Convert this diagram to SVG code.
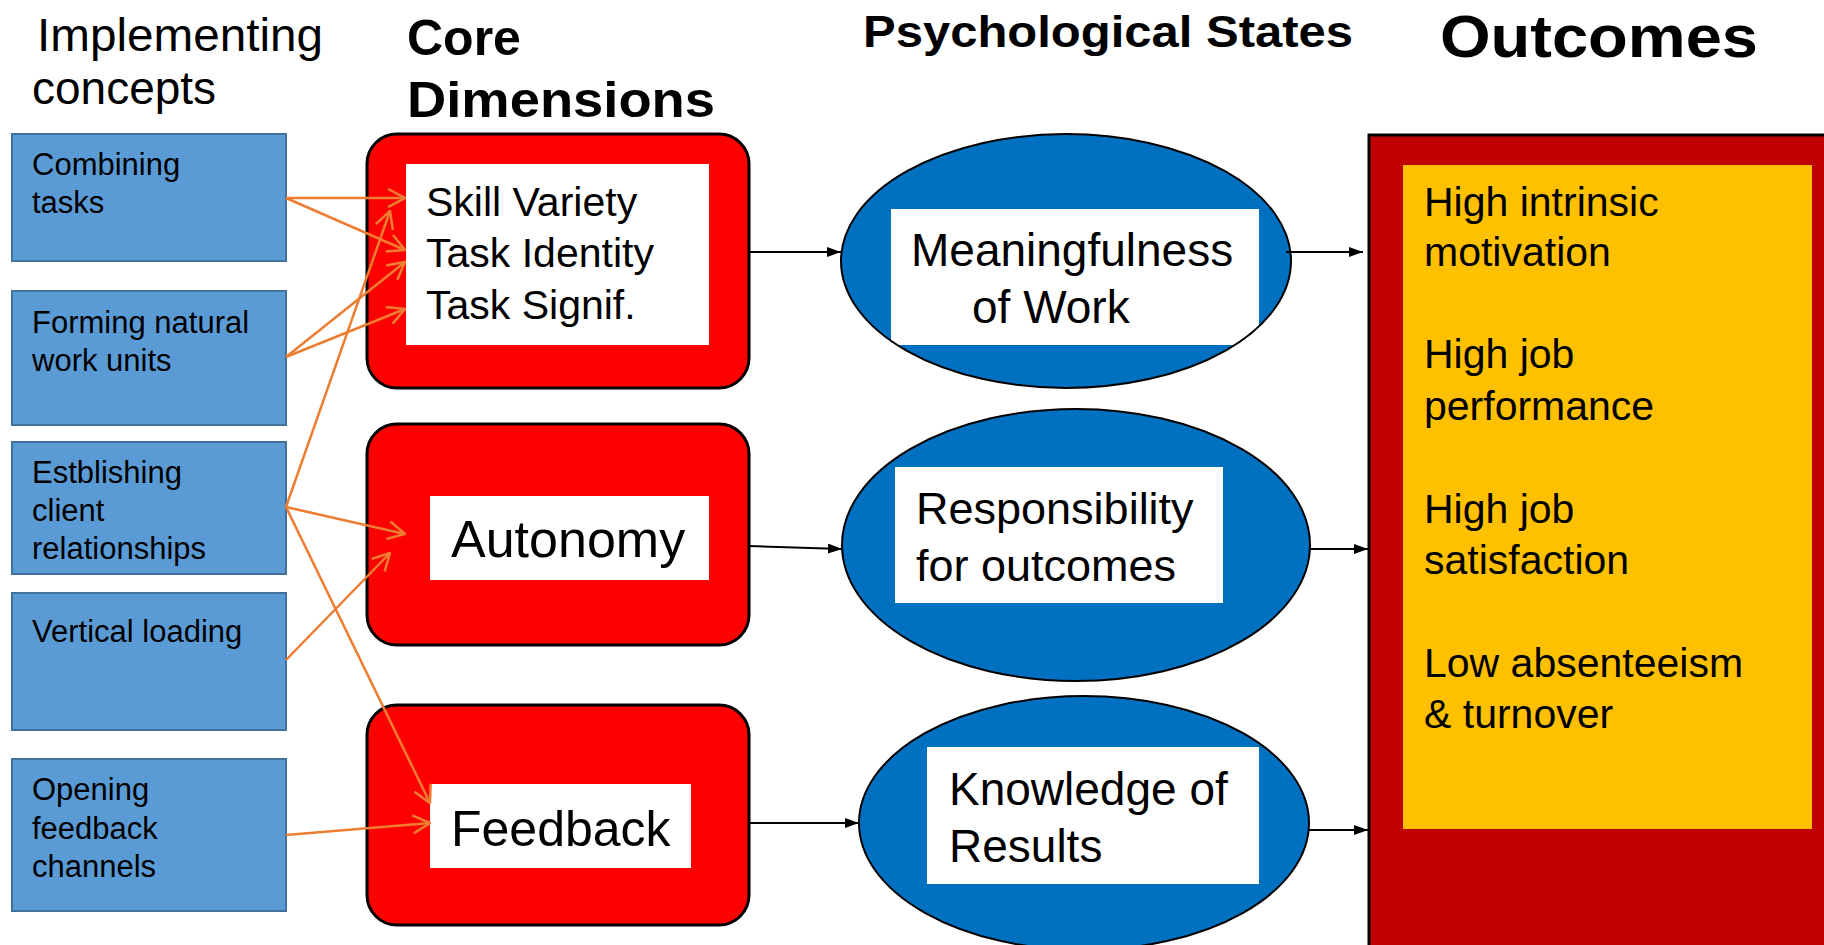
<svg xmlns="http://www.w3.org/2000/svg" width="1824" height="945" viewBox="0 0 1824 945">
<style>
text{font-family:"Liberation Sans",Arial,sans-serif;fill:#000}
.hdr{font-size:46px}
.hb{font-weight:bold}
.bt{font-size:31px}
.blue{fill:#5B9BD5;stroke:#41719C;stroke-width:2}
.red{fill:#FF0000;stroke:#000;stroke-width:3}
.wh{fill:#FFFFFF}
.ell{fill:#0070C0}
.ello{fill:none;stroke:#000;stroke-width:2}
.oc{stroke:#ED7D31;stroke-width:2.5;fill:none}
.bc{stroke:#000;stroke-width:2;fill:none}
.ot{font-size:41px}
</style>
<defs>
<marker id="oa" viewBox="0 0 20 20" refX="19" refY="10" markerWidth="20" markerHeight="20" markerUnits="userSpaceOnUse" orient="auto">
<path d="M2,1 L19,10 L2,19" fill="none" stroke="#ED7D31" stroke-width="2.5"/>
</marker>
<marker id="ba" viewBox="0 0 14 10" refX="14" refY="5" markerWidth="14" markerHeight="10" markerUnits="userSpaceOnUse" orient="auto">
<path d="M0,0 L14,5 L0,10 z" fill="#000"/>
</marker>
</defs>

<g id="headers">
<text class="hdr" x="37" y="51" textLength="286" lengthAdjust="spacingAndGlyphs">Implementing</text>
<text class="hdr" x="32" y="104">concepts</text>
<text class="hb" x="407" y="55" font-size="50">Core</text>
<text class="hb" x="407" y="117" font-size="50" textLength="308" lengthAdjust="spacingAndGlyphs">Dimensions</text>
<text class="hb" x="863" y="47" font-size="44" textLength="490" lengthAdjust="spacingAndGlyphs">Psychological States</text>
<text class="hb" x="1440" y="57" font-size="60" textLength="318" lengthAdjust="spacingAndGlyphs">Outcomes</text>
</g>

<g id="impl-combining">
<rect class="blue" x="12" y="134" width="274" height="127"/>
<text class="bt" x="32" y="175">Combining</text>
<text class="bt" x="32" y="213">tasks</text>
</g>
<g id="impl-forming">
<rect class="blue" x="12" y="291" width="274" height="134"/>
<text class="bt" x="32" y="333">Forming natural</text>
<text class="bt" x="32" y="371">work units</text>
</g>
<g id="impl-client">
<rect class="blue" x="12" y="442" width="274" height="132"/>
<text class="bt" x="32" y="483">Estblishing</text>
<text class="bt" x="32" y="521">client</text>
<text class="bt" x="32" y="559">relationships</text>
</g>
<g id="impl-vertical">
<rect class="blue" x="12" y="593" width="274" height="137"/>
<text class="bt" x="32" y="642">Vertical loading</text>
</g>
<g id="impl-feedback">
<rect class="blue" x="12" y="759" width="274" height="152"/>
<text class="bt" x="32" y="800">Opening</text>
<text class="bt" x="32" y="839">feedback</text>
<text class="bt" x="32" y="877">channels</text>
</g>

<g id="core-skill">
<rect class="red" x="367" y="134" width="382" height="254" rx="30" ry="30"/>
<rect class="wh" x="406" y="164" width="303" height="181"/>
<text x="426" y="216" font-size="41">Skill Variety</text>
<text x="426" y="267" font-size="41">Task Identity</text>
<text x="426" y="319" font-size="41">Task Signif.</text>
</g>
<g id="core-autonomy">
<rect class="red" x="367" y="424" width="382" height="221" rx="30" ry="30"/>
<rect class="wh" x="430" y="496" width="279" height="84"/>
<text x="451" y="557" font-size="52">Autonomy</text>
</g>
<g id="core-feedback">
<rect class="red" x="367" y="705" width="382" height="220" rx="30" ry="30"/>
<rect class="wh" x="430" y="784" width="261" height="84"/>
<text x="451" y="846" font-size="50">Feedback</text>
</g>

<g id="state-meaning">
<ellipse class="ell" cx="1066" cy="261" rx="225" ry="127"/>
<rect class="wh" x="891" y="209" width="368" height="136"/>
<ellipse class="ello" cx="1066" cy="261" rx="225" ry="127"/>
<text x="911" y="266" font-size="46">Meaningfulness</text>
<text x="972" y="323" font-size="46">of Work</text>
</g>
<g id="state-responsibility">
<ellipse class="ell" cx="1076" cy="545" rx="234" ry="136"/>
<rect class="wh" x="895" y="467" width="328" height="136"/>
<ellipse class="ello" cx="1076" cy="545" rx="234" ry="136"/>
<text x="916" y="524" font-size="45">Responsibility</text>
<text x="916" y="581" font-size="45">for outcomes</text>
</g>
<g id="state-knowledge">
<ellipse class="ell" cx="1084" cy="823" rx="225" ry="127"/>
<rect class="wh" x="927" y="747" width="332" height="137"/>
<ellipse class="ello" cx="1084" cy="823" rx="225" ry="127"/>
<text x="949" y="805" font-size="46">Knowledge of</text>
<text x="949" y="862" font-size="46">Results</text>
</g>

<g id="outcomes">
<rect x="1369" y="135" width="470" height="820" fill="#C00000" stroke="#000" stroke-width="3"/>
<rect x="1403" y="165" width="409" height="664" fill="#FFC000"/>
<text class="ot" x="1424" y="216">High intrinsic</text>
<text class="ot" x="1424" y="266">motivation</text>
<text class="ot" x="1424" y="368">High job</text>
<text class="ot" x="1424" y="420">performance</text>
<text class="ot" x="1424" y="523">High job</text>
<text class="ot" x="1424" y="574">satisfaction</text>
<text class="ot" x="1424" y="677">Low absenteeism</text>
<text class="ot" x="1424" y="728">&amp; turnover</text>
</g>

<g id="connectors">
<line class="oc" x1="286" y1="198" x2="405" y2="198" marker-end="url(#oa)"/>
<line class="oc" x1="286" y1="198" x2="405" y2="250" marker-end="url(#oa)"/>
<line class="oc" x1="286" y1="357" x2="405" y2="262" marker-end="url(#oa)"/>
<line class="oc" x1="286" y1="357" x2="405" y2="309" marker-end="url(#oa)"/>
<line class="oc" x1="286" y1="507" x2="390" y2="211" marker-end="url(#oa)"/>
<line class="oc" x1="286" y1="507" x2="405" y2="534" marker-end="url(#oa)"/>
<line class="oc" x1="286" y1="507" x2="430" y2="803" marker-end="url(#oa)"/>
<line class="oc" x1="286" y1="660" x2="390" y2="553" marker-end="url(#oa)"/>
<line class="oc" x1="286" y1="835" x2="430" y2="823" marker-end="url(#oa)"/>
<line class="bc" x1="749" y1="252" x2="841" y2="252" marker-end="url(#ba)"/>
<line class="bc" x1="749" y1="546" x2="842" y2="549" marker-end="url(#ba)"/>
<line class="bc" x1="749" y1="823" x2="859" y2="823" marker-end="url(#ba)"/>
<line class="bc" x1="1286" y1="252" x2="1363" y2="252" marker-end="url(#ba)"/>
<line class="bc" x1="1309" y1="549" x2="1368" y2="549" marker-end="url(#ba)"/>
<line class="bc" x1="1308" y1="830" x2="1368" y2="830" marker-end="url(#ba)"/>
</g>
</svg>
